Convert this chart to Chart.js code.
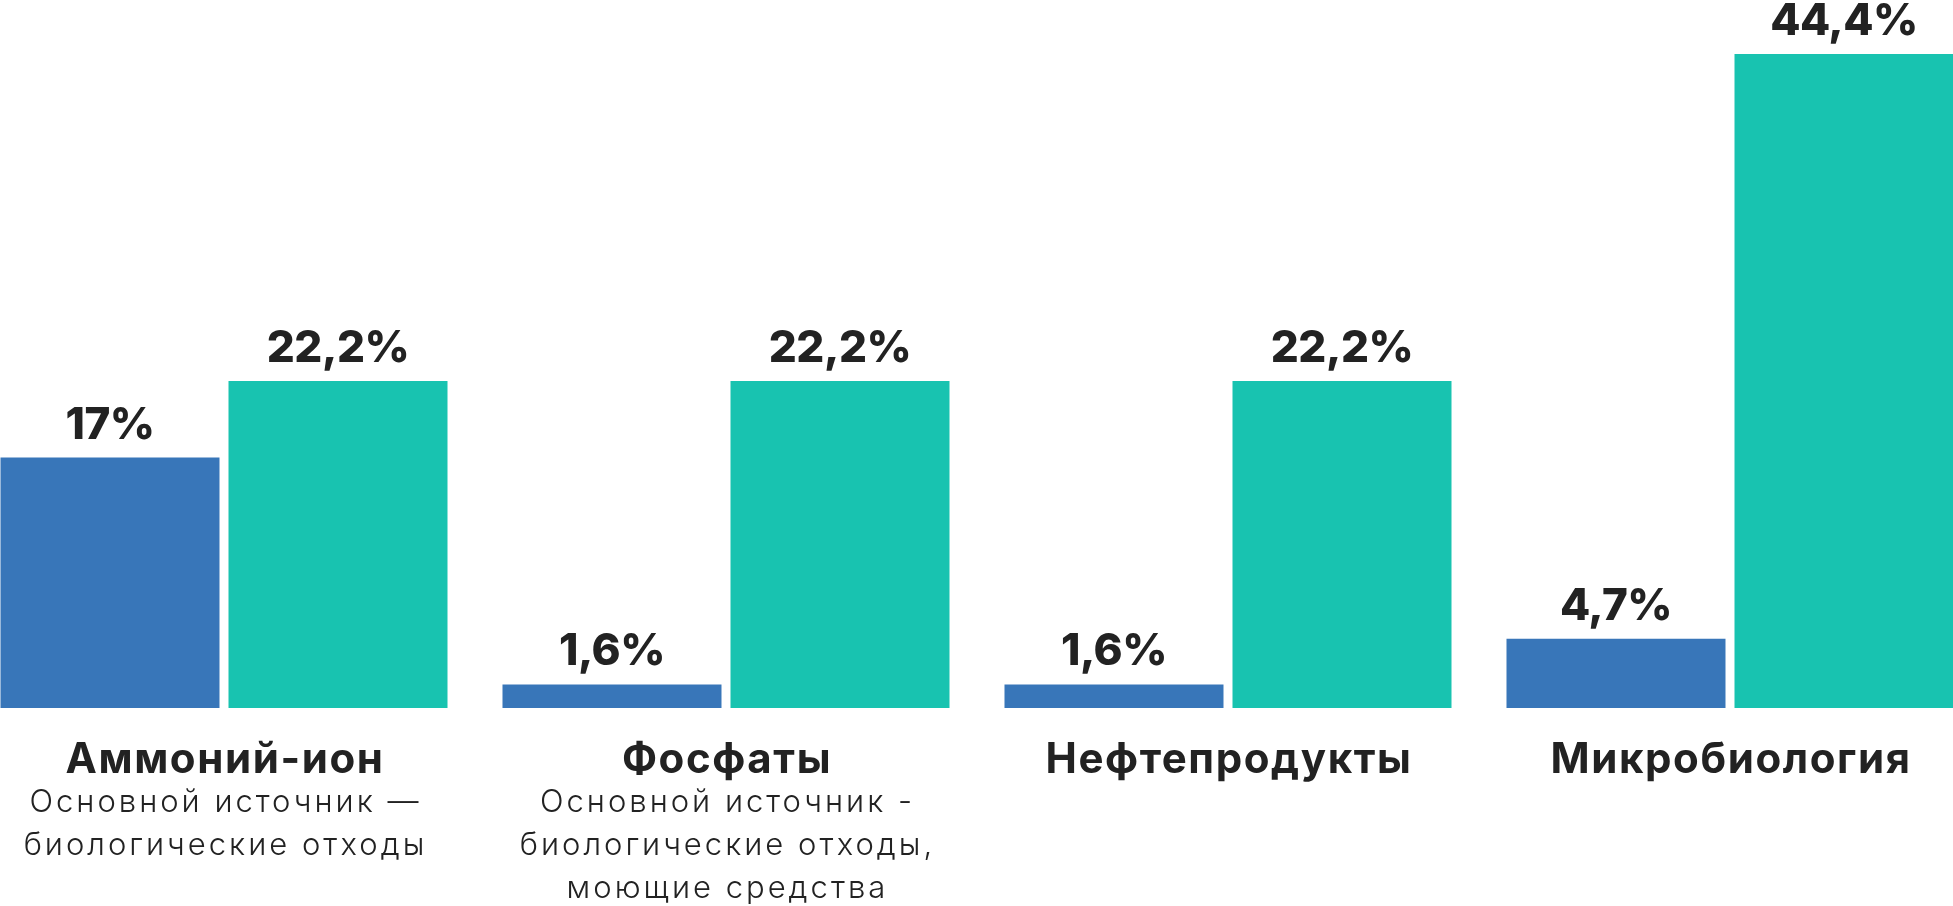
<!DOCTYPE html>
<html lang="ru">
<head>
<meta charset="utf-8">
<script src="https://cdn.jsdelivr.net/npm/chart.js@4.4.1/dist/chart.umd.min.js"></script>
<style>
  html, body { margin: 0; padding: 0; background: #fff; overflow: hidden; }
  .wrap { width: 1953px; height: 906px; overflow: hidden; position: relative; }
  .wrap canvas { position: absolute; left: -27px; top: 0; }
</style>
</head>
<body>
<div class="wrap">
  <canvas id="chart" width="2008" height="906"></canvas>
</div>
<script>
const categories = ['Аммоний-ион', 'Фосфаты', 'Нефтепродукты', 'Микробиология']
const notes = [
  ['Основной источник —', 'биологические отходы'],
  ['Основной источник -', 'биологические отходы,', 'моющие средства'],
  [],
  []
]
const valuesBlue = [17, 1.6, 1.6, 4.7]
const valuesGreen = [22.2, 22.2, 22.2, 44.4]

const FONT = "Inter, 'Noto Sans', sans-serif"
const TEXT_COLOR = '#222222'

const fmt = (v) => String(v).replace('.', ',') + '%'

// value labels above bars + category captions under the axis
const labelsPlugin = {
  id: 'barLabels',
  afterDatasetsDraw(chart) {
    const ctx = chart.ctx
    ctx.save()
    ctx.fillStyle = TEXT_COLOR
    ctx.textAlign = 'center'
    ctx.textBaseline = 'alphabetic'
    ctx.font = `800 44px ${FONT}`
    ctx.letterSpacing = '-0.5px'
    chart.data.datasets.forEach((ds, di) => {
      chart.getDatasetMeta(di).data.forEach((bar, i) => {
        const p = bar.getProps(['x', 'y'], true)
        ctx.fillText(fmt(ds.data[i]), p.x, p.y - 19)
      })
    })

    const xScale = chart.scales.x
    const bottom = chart.chartArea.bottom
    categories.forEach((cat, i) => {
      const cx = xScale.getPixelForValue(i)
      ctx.font = `700 42px ${FONT}`
      ctx.letterSpacing = '1.6px'
      ctx.fillText(cat, cx + 1, bottom + 65)
      ctx.font = `300 31px ${FONT}`
      ctx.letterSpacing = '3px'
      notes[i].forEach((line, j) => {
        ctx.fillText(line, cx + 1.5, bottom + 104 + j * 43)
      })
    })
    ctx.restore()
  }
}

const ctx = document.getElementById('chart').getContext('2d')
new Chart(ctx, {
  type: 'bar',
  data: {
    labels: categories,
    datasets: [
      {
        label: 'Серия 1',
        data: valuesBlue,
        backgroundColor: '#3876B9'
      },
      {
        label: 'Серия 2',
        data: valuesGreen,
        backgroundColor: '#18C3B0'
      }
    ]
  },
  options: {
    responsive: false,
    animation: false,
    layout: { padding: { top: 0, bottom: 198, left: 0, right: 0 } },
    datasets: {
      bar: {
        categoryPercentage: 0.9084,
        barPercentage: 0.9605
      }
    },
    scales: {
      x: { display: false },
      y: { display: false, min: 0, max: 48.07 }
    },
    plugins: {
      legend: { display: false },
      tooltip: { enabled: false }
    }
  },
  plugins: [labelsPlugin]
})
</script>
</body>
</html>
